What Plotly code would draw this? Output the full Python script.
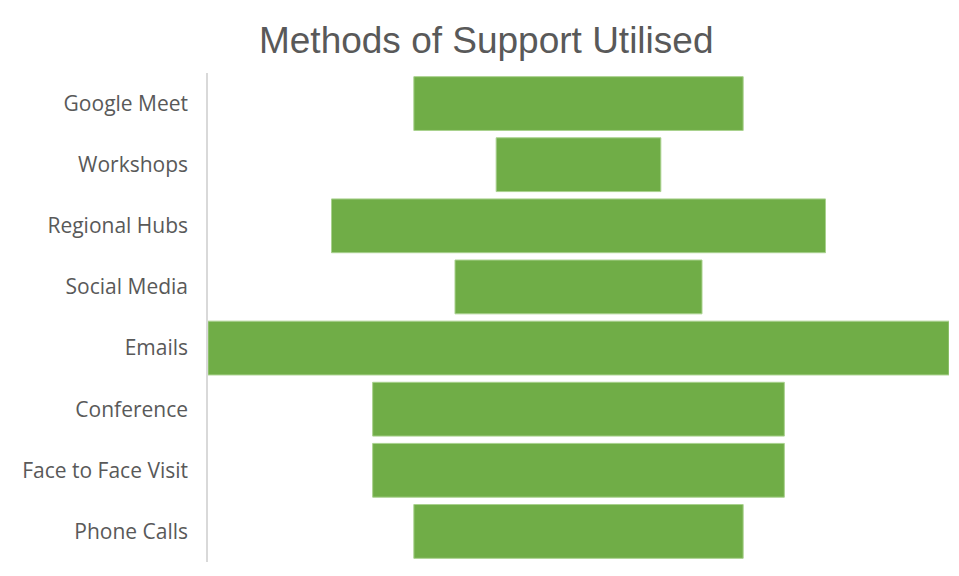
import plotly.graph_objects as go

categories = ["Google Meet", "Workshops", "Regional Hubs", "Social Media",
              "Emails", "Conference", "Face to Face Visit", "Phone Calls"]
values = [8, 4, 12, 6, 18, 10, 10, 8]
title_text = "Methods of Support Utilised"

fig = go.Figure(go.Funnel(
    y=categories,
    x=values,
    textinfo="none",
    hoverinfo="y+x",
    marker=dict(color="#70ad47", line=dict(color="#a9d18e", width=1)),
    connector=dict(visible=False),
    width=0.88,
))

fig.update_layout(
    width=959, height=576,
    paper_bgcolor="white", plot_bgcolor="white",
    margin=dict(l=208, r=10, t=73, b=14),
    title=dict(text=title_text, x=0.507, xanchor="center", y=0.93, yanchor="middle",
               font=dict(family="Liberation Sans, Arial", size=37, color="#595959")),
    showlegend=False,
    xaxis=dict(visible=False, range=[-9, 9], fixedrange=True),
    yaxis=dict(
        categoryorder="array", categoryarray=categories, autorange="reversed",
        showline=True, linecolor="#d9d9d9", linewidth=1.5,
        showgrid=False, zeroline=False, ticks="",
        ticklabelstandoff=14,
        tickfont=dict(family="Open Sans, Noto Sans", size=21, color="#595959"),
    ),
)

fig.write_html("out.html",
               config={"displayModeBar": False},
               post_script="document.body.style.margin='0';document.body.style.overflow='hidden';")
